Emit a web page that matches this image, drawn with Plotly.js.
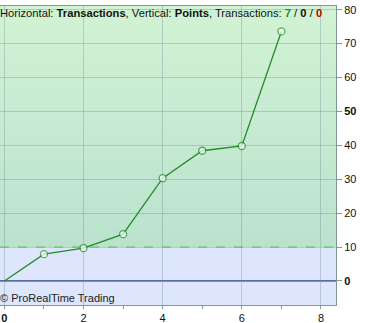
<!DOCTYPE html>
<html><head><meta charset="utf-8">
<script src="https://cdn.plot.ly/plotly-3.0.1.min.js"></script>
<style>html,body{margin:0;padding:0;background:#fff;}#chart{width:367px;height:323px;}</style>
</head><body><div id="chart"></div>
<script>
const transactions = [0, 1, 2, 3, 4, 5, 6, 7];
const points = [0, 7.9, 9.7, 13.8, 30.3, 38.4, 39.8, 73.6];
const xTickVals = [0, 2, 4, 6, 8];
const xTickText = ['<b>0</b>', '2', '4', '6', '8'];
const yTickVals = [0, 10, 20, 30, 40, 50, 60, 70, 80];
const yTickText = ['<b>0</b>', '10', '20', '30', '40', '<b>50</b>', '60', '70', '80'];
const threshold = 10;
const zeroLine = 0;
const xRange = [-0.11, 8.38];
const yRange = [-7.1, 81.1];

// the starting point (origin) is drawn without a marker circle
const markerSizes = transactions.map((t, i) => i === 0 ? 0 : 7);

const trace = {
  x: transactions, y: points, type: 'scatter', mode: 'lines+markers',
  line: {color: 'rgb(34,140,40)', width: 1.3},
  marker: {size: markerSizes, color: '#ffffff', line: {color: 'rgb(34,140,40)', width: 1.3}},
  hoverinfo: 'none', cliponaxis: false
};

const shapes = [];
const steps = 24;
const bandTop = yRange[1];
for (let i = 0; i < steps; i++) {
  const y0 = threshold + (bandTop - threshold) * i / steps;
  const y1 = threshold + (bandTop - threshold) * (i + 1) / steps;
  const t = (i + 0.5) / steps;
  const r = Math.round(185 + (209 - 185) * t);
  const g = Math.round(226 + (243 - 226) * t);
  const b = Math.round(205 + (211 - 205) * t);
  shapes.push({type: 'rect', xref: 'paper', yref: 'y', x0: 0, x1: 1, y0: y0, y1: y1,
    fillcolor: `rgb(${r},${g},${b})`, line: {width: 0}, layer: 'below'});
}
shapes.push({type: 'rect', xref: 'paper', yref: 'y', x0: 0, x1: 1, y0: yRange[0], y1: threshold,
  fillcolor: 'rgb(221,230,252)', line: {width: 0}, layer: 'below'});
shapes.push({type: 'line', xref: 'paper', yref: 'y', x0: 0, x1: 1, y0: threshold, y1: threshold,
  line: {color: 'rgb(90,190,90)', width: 1, dash: 'dash'}, layer: 'between'});
shapes.push({type: 'line', xref: 'paper', yref: 'y', x0: 0, x1: 1, y0: zeroLine, y1: zeroLine,
  line: {color: 'rgb(40,40,180)', width: 1.2}, layer: 'between'});

const font = {family: 'Liberation Sans, Arial, sans-serif', size: 11, color: '#111'};

const layout = {
  width: 367, height: 323,
  margin: {l: 0, r: 31, t: 6, b: 18, pad: 0},
  paper_bgcolor: '#ffffff', plot_bgcolor: 'rgb(221,230,252)',
  font: font, showlegend: false,
  xaxis: {
    range: xRange, tickvals: xTickVals, ticktext: xTickText,
    ticks: 'outside', ticklen: 3, tickcolor: '#7f9a96', tickfont: {size: 11, color: '#111'},
    showgrid: true, gridcolor: 'rgba(110,140,150,0.35)', gridwidth: 1,
    zeroline: false, showline: true, mirror: true, linecolor: '#7f9a96', linewidth: 1,
    minor: {dtick: 1, tick0: 1, ticks: 'outside', ticklen: 3, tickcolor: '#7f9a96', showgrid: false},
    fixedrange: true
  },
  yaxis: {
    range: yRange, side: 'right', tickvals: yTickVals, ticktext: yTickText,
    ticks: 'outside', ticklen: 5, tickcolor: '#7f9a96', tickfont: {size: 11, color: '#111'},
    showgrid: true, gridcolor: 'rgba(100,150,115,0.35)', gridwidth: 1,
    zeroline: false, showline: true, mirror: true, linecolor: '#7f9a96', linewidth: 1,
    fixedrange: true
  },
  shapes: shapes,
  annotations: [
    {xref: 'paper', yref: 'paper', x: 0, y: 1, xanchor: 'left', yanchor: 'top', showarrow: false,
     xshift: -2, yshift: 1,
     text: 'Horizontal: <b>Transactions</b>, Vertical: <b>Points</b>, Transactions: <b><span style="color:#2a8a2a">7</span></b> / <b>0</b> / <b><span style="color:#c00000">0</span></b>',
     font: {size: 11.2, color: '#111', family: 'Liberation Sans, Arial, sans-serif'}},
    {xref: 'paper', yref: 'paper', x: 0, y: 0, xanchor: 'left', yanchor: 'bottom', showarrow: false,
     xshift: -2, yshift: -1,
     text: '© ProRealTime Trading',
     font: {size: 11, color: '#222', family: 'Liberation Sans, Arial, sans-serif'}}
  ]
};

Plotly.newPlot('chart', [trace], layout, {displayModeBar: false, staticPlot: true});
</script></body></html>
